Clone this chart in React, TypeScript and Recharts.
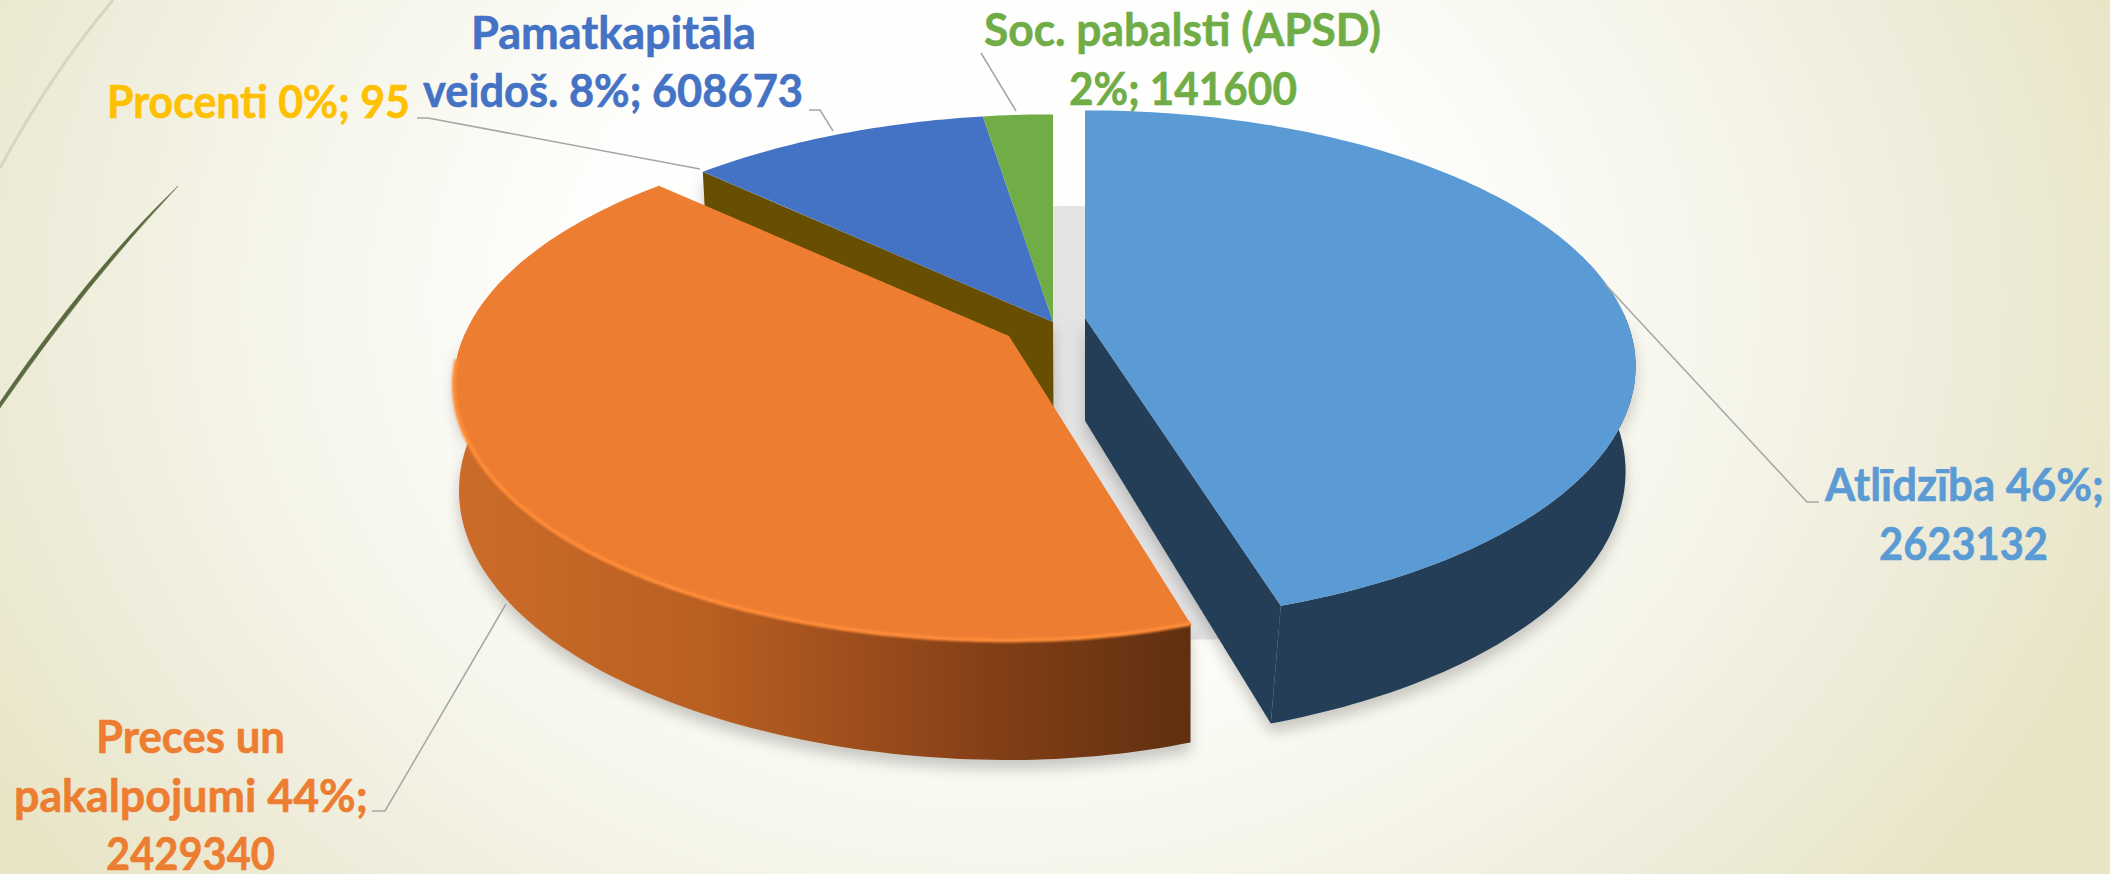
import React from "react";
import { PieChart, Pie } from "recharts";

// slices listed from the back of the pie to the front, so the front ones paint last
const categories = ["Procenti", "Pamatkapitāla veidoš.", "Soc. pabalsti (APSD)", "Atlīdzība", "Preces un pakalpojumi"];
const values = [95, 608673, 141600, 2623132, 2429340];
const labelTexts = [
  ["Procenti 0%; 95"],
  ["Pamatkapitāla", "veidoš. 8%; 608673"],
  ["Soc. pabalsti (APSD)", "2%; 141600"],
  ["Atlīdzība 46%;", "2623132"],
  ["Preces un", "pakalpojumi 44%;", "2429340"],
];

const topColors = ["#FFC000", "#4472C4", "#70AD47", "#5B9BD5", "#ED7D31"];
const sideColors = ["#674E00", "#674E00", "#3f6428", "#233E56", "url(#precesSide)"];
const explodeX = [0, 0, 0, 32, -44];
const explodeY = [0, 0, 0, -4, 14];
// the right half of the exploded slices reads narrower in the picture
const rightSquash = [1, 1, 1, 0.992, 0.92];
// which cut faces can be seen
const startWall = [true, false, false, true, false];
const endWall = [false, false, false, true, false];

// [x, baseline, width] for each label line
const labelBoxes = [
  [[107, 118, 303]],
  [[471, 49, 285], [423, 107, 380]],
  [[984, 46, 397], [1069, 105, 228]],
  [[1825, 501, 279], [1879, 560, 169]],
  [[96, 753, 189], [14, 812, 354], [106, 870, 169]],
];
const leaderLines = [
  "417,118 428,118 700,169",
  "809,110 820,110 833,131",
  "981,53 1016,111",
  "1819,502 1807,502 1605,284",
  "372,811 385,811 506,604",
];

const WIDTH = 2110;
const HEIGHT = 874;
const CX = 1053;
const CY = 322;
const RADIUS = 545;
const TILT = 0.453;
const PERSPECTIVE = 0.189;
const LABEL_FONT = "700 46px Lato";

const rows = categories.map((name, i) => ({ name, value: values[i] }));
const total = values.reduce((a, b) => a + b, 0);
const backShare = (values[0] + values[1] + values[2]) / total;
const startAngle = 90 + 360 * backShare;

type Pt = [number, number];

function rimPoint(cx: number, cy: number, r: number, deg: number, squash = 1): Pt {
  const a = (deg * Math.PI) / 180;
  const w = 1 + PERSPECTIVE * Math.sin(a);
  const u = Math.cos(a);
  return [cx + (r * u * (u > 0 ? squash : 1)) / w, cy - (r * TILT * Math.sin(a)) / w];
}

function rim(cx: number, cy: number, r: number, from: number, to: number, squash = 1): Pt[] {
  const n = Math.max(2, Math.ceil(Math.abs(from - to)) + 1);
  return Array.from({ length: n }, (_, k) => rimPoint(cx, cy, r, from + ((to - from) * k) / (n - 1), squash));
}

// walls narrow a little going down
function lower([x, y]: Pt): Pt {
  const slant = x > 1190 ? -10 * Math.min(1, (x - 1190) / 90) : 5 * Math.min(1, Math.max(0, 1085 - x) / 300);
  return [x + slant, y + 103 + 0.052 * (y - CY)];
}

const toPath = (pts: Pt[]) => "M" + pts.map((p) => p[0].toFixed(1) + "," + p[1].toFixed(1)).join("L") + "Z";

function SliceShape(props: any) {
  const i = categories.indexOf(props.name);
  const cx = props.cx + explodeX[i];
  const cy = props.cy + explodeY[i];
  const apex: Pt = [cx, cy];
  const edge = rim(cx, cy, props.outerRadius, props.startAngle, props.endAngle, rightSquash[i]);
  const first = edge[0];
  const last = edge[edge.length - 1];
  // only the near part of the rim shows a wall
  const nearRim = edge.filter((p) => p[1] > cy - 5);
  const strip = [...nearRim, ...nearRim.map(lower).reverse()];
  const front = edge.filter((p) => p[1] > cy + 20);
  return (
    <g>
      {i === 4 && (
        <defs>
          <linearGradient id="precesSide" x1="0" x2="1" y1="0" y2="0">
            <stop offset="0" stopColor="#CD6C29" />
            <stop offset="0.35" stopColor="#B85F22" />
            <stop offset="0.72" stopColor="#853F17" />
            <stop offset="1" stopColor="#5F3010" />
          </linearGradient>
        </defs>
      )}
      <g style={{ filter: "drop-shadow(0 9px 7px rgba(0,0,0,0.2))" }}>
        {nearRim.length > 1 && <path d={toPath(strip)} fill={sideColors[i]} />}
        {startWall[i] && <path d={toPath([apex, first, lower(first), lower(apex)])} fill={sideColors[i]} />}
        {endWall[i] && <path d={toPath([apex, last, lower(last), lower(apex)])} fill={sideColors[i]} />}
      </g>
      <path d={toPath([apex, ...edge])} fill={topColors[i]} />
      {i === 4 && (
        <path
          d={toPath(front).replace("Z", "")}
          fill="none"
          stroke="#FF8C38"
          strokeWidth={4}
          style={{ filter: "blur(1px)" }}
        />
      )}
    </g>
  );
}

// the grey cast shadow that shows through the gaps between the slices
function CastShadow(props: any) {
  const cy = props.cy + 92;
  const edge = rim(props.cx, cy, props.outerRadius, props.startAngle, props.endAngle).map(
    ([x, y]): Pt => [x, Math.min(y, cy + 225)],
  );
  return <path d={toPath([[props.cx, cy], ...edge])} fill="#E3E3E3" stroke="#E3E3E3" />;
}

const measure = document.createElement("canvas").getContext("2d")!;

function SliceLabel(props: any) {
  const i = categories.indexOf(props.name);
  measure.font = LABEL_FONT;
  return (
    <g>
      {labelTexts[i].map((line, k) => {
        const [x, y, w] = labelBoxes[i][k];
        const sx = w / measure.measureText(line).width;
        return (
          <text
            key={k}
            transform={`translate(${x},${y}) scale(${sx.toFixed(4)},1)`}
            fontFamily="Lato, 'Open Sans', sans-serif"
            fontWeight={700}
            fontSize={46}
            fill={topColors[i]}
            stroke={topColors[i]}
            strokeWidth={0.6}
          >
            {line}
          </text>
        );
      })}
    </g>
  );
}

function SliceLeader(props: any) {
  const i = categories.indexOf(props.name);
  return <polyline points={leaderLines[i]} fill="none" stroke="#A6A6A6" strokeWidth={1.5} />;
}

export default function App() {
  return (
    <div
      style={{
        position: "absolute",
        left: 0,
        top: 0,
        width: WIDTH,
        height: HEIGHT,
        overflow: "hidden",
        background:
          "radial-gradient(ellipse 1180px 950px at 1000px 300px, #ffffff 0%, #fefefd 35%, #f6f5ea 62%, #eeecd9 82%, #e8e5c6 100%)",
      }}
    >
      <svg width={WIDTH} height={HEIGHT} style={{ position: "absolute", left: 0, top: 0 }}>
        <path d="M113,0 Q50,75 0,168" fill="none" stroke="#D6D7C2" strokeWidth={3} />
        <path d="M178,186 Q90,270 0,402 L0,408 Q85,285 178,186Z" fill="#5C6B3F" stroke="#5C6B3F" strokeWidth={0.5} />
      </svg>
      <PieChart
        width={WIDTH}
        height={HEIGHT}
        margin={{ top: 0, right: 0, bottom: 0, left: 0 }}
        style={{ position: "absolute", left: 0, top: 0 }}
      >
        <Pie
          data={rows}
          dataKey="value"
          nameKey="name"
          cx={CX}
          cy={CY}
          outerRadius={RADIUS}
          startAngle={startAngle}
          endAngle={startAngle - 360}
          stroke="none"
          isAnimationActive={false}
          shape={CastShadow}
        />
        <Pie
          data={rows}
          dataKey="value"
          nameKey="name"
          cx={CX}
          cy={CY}
          outerRadius={RADIUS}
          startAngle={startAngle}
          endAngle={startAngle - 360}
          stroke="none"
          isAnimationActive={false}
          shape={SliceShape}
          label={SliceLabel}
          labelLine={SliceLeader}
        />
      </PieChart>
    </div>
  );
}
